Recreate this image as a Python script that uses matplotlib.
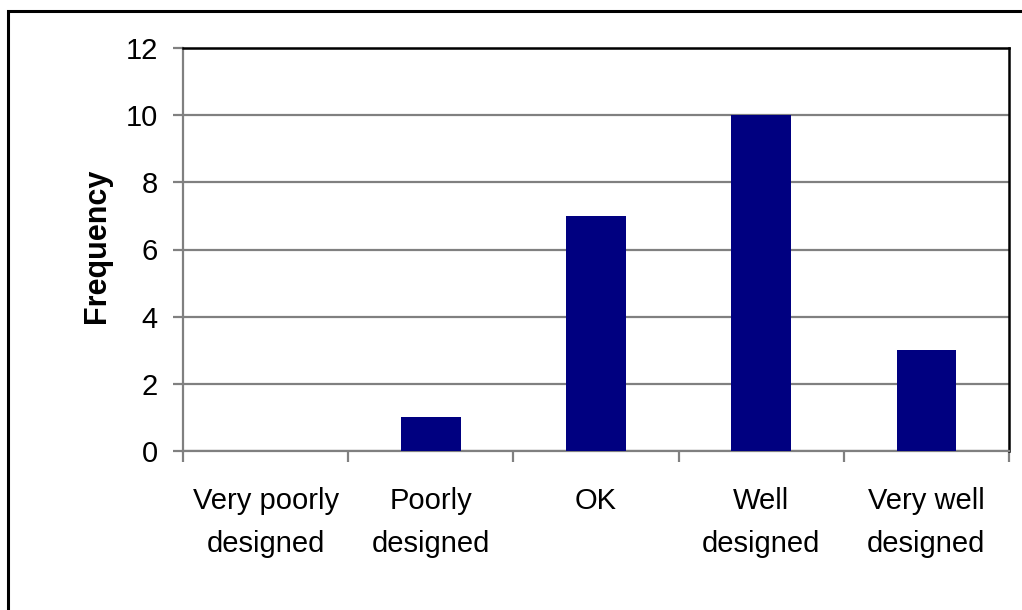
import matplotlib
matplotlib.use("Agg")
import matplotlib.pyplot as plt
from matplotlib.patches import Rectangle
import numpy as np

categories = ["Very poorly\ndesigned", "Poorly\ndesigned", "OK",
              "Well\ndesigned", "Very well\ndesigned"]
frequency = [0, 1, 7, 10, 3]
y_ticks = [0, 2, 4, 6, 8, 10, 12]

plt.rcParams['font.family'] = ['Liberation Sans', 'DejaVu Sans']

fig = plt.figure(figsize=(10.22, 6.1), dpi=100)
ax = fig.add_axes([183 / 1022, 1 - 451 / 610, (1009 - 183) / 1022, (451 - 48) / 610])

# рамка вокруг всей картинки (видны только левая и верхняя стороны)
fig.patches.append(Rectangle((8 / 1022, -0.1), 1.2, 1 - 11 / 610 + 0.1,
                             transform=fig.transFigure, fill=False,
                             edgecolor='black', linewidth=2.2))

x = np.arange(len(categories))
ax.bar(x, frequency, width=0.36, color='#000080', zorder=3)

ax.set_xlim(-0.5, len(categories) - 0.5)
ax.set_ylim(0, 12)
ax.set_yticks(y_ticks)
ax.yaxis.grid(True, color='#808080', linewidth=1.6, zorder=1)

ax.set_xticks(x)
ax.set_xticklabels(categories, fontsize=21, linespacing=1.66)
ax.set_xticks(np.arange(len(categories) + 1) - 0.5, minor=True)
ax.tick_params(axis='x', which='major', length=0, pad=26)
ax.tick_params(axis='x', which='minor', length=8, width=1.6, color='#808080',
               direction='out')
ax.tick_params(axis='y', labelsize=21, length=7, width=1.6, color='#808080',
               pad=11)

for side in ['left', 'bottom']:
    ax.spines[side].set_color('#808080')
    ax.spines[side].set_linewidth(1.6)
for side in ['top', 'right']:
    ax.spines[side].set_color('black')
    ax.spines[side].set_linewidth(1.8)

ax.set_ylabel("Frequency", fontsize=22, fontweight='bold')
ax.yaxis.set_label_coords(-0.086, 0.51)

fig.savefig("out.png", dpi=100)
